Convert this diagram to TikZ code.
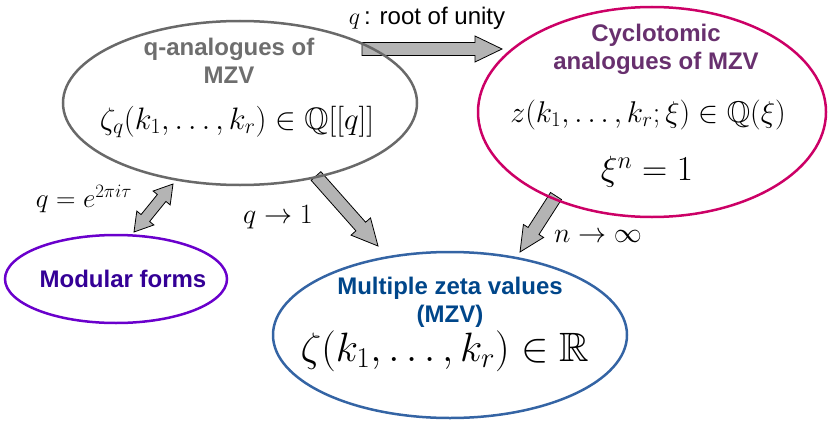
\RequirePackage{fix-cm}
\documentclass[tikz,border=0pt]{standalone}
\usepackage{amsmath}
\usepackage{amssymb}
\usepackage{fontspec}
\setsansfont{Liberation Sans}
\usepackage{tikz}
\usetikzlibrary{shapes.geometric,calc}
\definecolor{qgray}{RGB}{105,105,105}
\definecolor{qtext}{RGB}{110,110,110}
\definecolor{cyring}{RGB}{204,0,102}
\definecolor{cytext}{RGB}{104,48,110}
\definecolor{modring}{RGB}{106,0,204}
\definecolor{modtext}{RGB}{52,0,150}
\definecolor{mzring}{RGB}{52,100,164}
\definecolor{mztext}{RGB}{0,70,138}
\definecolor{arrfill}{RGB}{180,180,180}
\tikzset{
  blob/.style={draw, ellipse, line width=2.5pt, inner sep=0pt},
  title/.style={font=\fontsize{24}{28}\selectfont\sffamily\bfseries, align=center, inner sep=0pt},
  formula/.style={inner sep=0pt},
  lbl/.style={inner sep=0pt, font=\fontsize{28}{32}\selectfont},
  fatarr/.style={draw=black, fill=arrfill, line width=0.8pt, line join=miter}
}
% block arrow: from, to, shaft half width, head half width, head length
\newcommand{\blockarrow}[5]{%
  \coordinate (ba-base) at ($(#2)!#5!(#1)$);
  \draw[fatarr] ($(#1)!#3!90:(#2)$) -- ($(ba-base)!#3!90:(#2)$) -- ($(ba-base)!#4!90:(#2)$)
    -- (#2) -- ($(ba-base)!#4!-90:(#2)$) -- ($(ba-base)!#3!-90:(#2)$) -- ($(#1)!#3!-90:(#2)$) -- cycle;
}
% same with a head at both ends
\newcommand{\blockarrows}[5]{%
  \coordinate (ba-one) at ($(#1)!#5!(#2)$);
  \coordinate (ba-two) at ($(#2)!#5!(#1)$);
  \draw[fatarr] (#1) -- ($(ba-one)!#4!90:(#2)$) -- ($(ba-one)!#3!90:(#2)$) -- ($(ba-two)!#3!90:(#2)$)
    -- ($(ba-two)!#4!90:(#2)$) -- (#2) -- ($(ba-two)!#4!-90:(#2)$) -- ($(ba-two)!#3!-90:(#2)$)
    -- ($(ba-one)!#3!-90:(#2)$) -- ($(ba-one)!#4!-90:(#2)$) -- cycle;
}
\begin{document}
\begin{tikzpicture}[x=1pt, y=-1pt]
  \useasboundingbox (0,0) rectangle (829,420);

  % arrow ends
  \coordinate (root-s) at (362,49);
  \coordinate (root-e) at (502,49);
  \coordinate (lim-s) at (316,176);
  \coordinate (lim-e) at (378,246);
  \coordinate (inf-s) at (556,196);
  \coordinate (inf-e) at (520,252);
  \coordinate (mod-a) at (173,184);
  \coordinate (mod-b) at (134,232);

  \blockarrow{root-s}{root-e}{6.5pt}{13pt}{27pt}
  \blockarrow{lim-s}{lim-e}{6.5pt}{13pt}{26pt}
  \blockarrow{inf-s}{inf-e}{6.5pt}{12pt}{25pt}
  \blockarrows{mod-a}{mod-b}{5.5pt}{11pt}{18pt}

  % the four families
  \node[blob, draw=qgray, minimum width=354pt, minimum height=164pt] (qana) at (240,103) {};
  \node[blob, draw=cyring, minimum width=348pt, minimum height=210pt] (cyclo) at (652,112) {};
  \node[blob, draw=modring, minimum width=222pt, minimum height=88pt] (modf) at (116,279) {};
  \node[blob, draw=mzring, minimum width=354pt, minimum height=166pt] (mzv) at (450,335) {};

  \node[title, text=qtext] (qana-t) at (229,61) {q-analogues of\\MZV};
  \node[formula, font=\fontsize{31}{35}\selectfont] (qana-f) at (237,122) {$\zeta_q(k_1,\ldots,k_r)\in\mathbb{Q}[[q]]$};

  \node[title, text=cytext] (cyclo-t) at (656,49) {Cyclotomic\\analogues of MZV};
  \node[formula, font=\fontsize{30}{35}\selectfont] (cyclo-f) at (648,115) {$z(k_1,\ldots,k_r;\xi)\in\mathbb{Q}(\xi)$};
  \node[formula, font=\fontsize{35}{40}\selectfont] (cyclo-n) at (647,172) {$\xi^n=1$};

  \node[title, text=modtext] (modf-t) at (123,279) {Modular forms};

  \node[title, text=mztext] (mzv-t) at (450,302) {Multiple zeta values\\(MZV)};
  \node[formula, font=\fontsize{41}{46}\selectfont] (mzv-f) at (445,351) {$\zeta(k_1,\ldots,k_r)\in\mathbb{R}$};

  % arrow labels
  \node[inner sep=0pt, font=\fontsize{24}{28}\selectfont] (root-l) at (427,18) {$q$\,\sffamily: root of unity};
  \node[lbl] (lim-l) at (278,217) {$q\to 1$};
  \node[lbl] (inf-l) at (598,236) {$n\to\infty$};
  \node[lbl, font=\fontsize{27}{31}\selectfont] (mod-l) at (84,199) {$q=e^{2\pi i\tau}$};
\end{tikzpicture}
\end{document}
